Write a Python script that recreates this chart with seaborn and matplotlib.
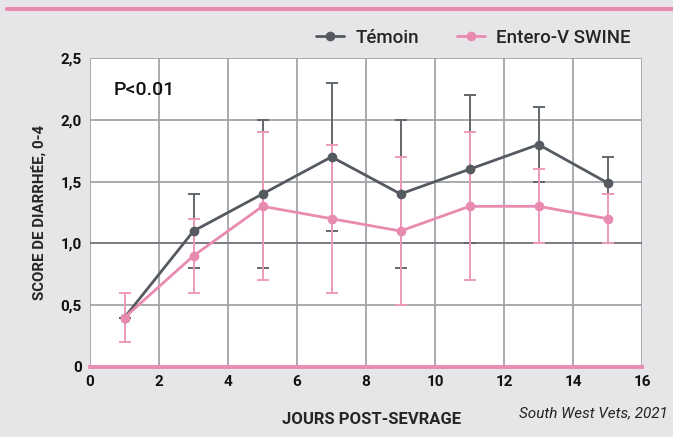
import matplotlib
matplotlib.use("Agg")
import matplotlib.pyplot as plt
import numpy as np
import pandas as pd
import seaborn as sns

sns.set_style("white")
plt.rcParams['font.family'] = ['Roboto', 'DejaVu Sans']

days = [1, 3, 5, 7, 9, 11, 13, 15]
temoin = [0.4, 1.1, 1.4, 1.7, 1.4, 1.6, 1.8, 1.49]
temoin_lo = [0.4, 0.8, 0.8, 1.1, 0.8, 1.0, 1.5, 1.4]
temoin_hi = [0.4, 1.4, 2.0, 2.3, 2.0, 2.2, 2.1, 1.7]
entero = [0.4, 0.9, 1.3, 1.2, 1.1, 1.3, 1.3, 1.2]
entero_lo = [0.2, 0.6, 0.7, 0.6, 0.5, 0.7, 1.0, 1.0]
entero_hi = [0.6, 1.2, 1.9, 1.8, 1.7, 1.9, 1.6, 1.4]
series = ['Témoin', 'Entero-V SWINE']
yticks = [0, 0.5, 1.0, 1.5, 2.0, 2.5]
ytick_labels = ['0', '0,5', '1,0', '1,5', '2,0', '2,5']

grey = '#555a60'
pink = '#e98bb0'
bg = '#e6e6e8'

df = pd.DataFrame({
    'jour': days * 2,
    'score': temoin + entero,
    'groupe': [series[0]] * len(days) + [series[1]] * len(days),
})

fig = plt.figure(figsize=(6.73, 4.37), dpi=100, facecolor=bg)
ax = fig.add_axes([90 / 673, 1 - 367 / 437, 552 / 673, 309 / 437])
ax.set_facecolor('white')

# error bars first, lines on top
for vals, lo, hi, c in [(temoin, temoin_lo, temoin_hi, '#62676d'),
                        (entero, entero_lo, entero_hi, '#ee9bbb')]:
    v = np.array(vals)
    err = np.vstack([v - np.array(lo), np.array(hi) - v])
    ax.errorbar(days, v, yerr=err, fmt='none', ecolor=c, elinewidth=1.4,
                capsize=4, capthick=1.4, zorder=3)

sns.lineplot(data=df, x='jour', y='score', hue='groupe', hue_order=series,
             palette=[grey, pink], marker='o', markersize=7, markeredgewidth=0,
             linewidth=2, ax=ax, zorder=4)

ax.set_xlim(0, 16)
ax.set_ylim(0, 2.5)
ax.set_xticks(range(0, 17, 2))
ax.set_yticks(yticks)
ax.set_yticklabels(ytick_labels)
ax.tick_params(axis='both', length=0, labelsize=11, pad=6, colors='#111111')
for lab in ax.get_xticklabels() + ax.get_yticklabels():
    lab.set_fontweight('bold')

ax.grid(True, color='#a3a3a8', linewidth=1.3)
ax.axhline(1.0, color='#7a7a80', linewidth=1.3, zorder=1)
for s in ['top', 'right', 'left']:
    ax.spines[s].set_visible(False)
ax.spines['bottom'].set_color(pink)
ax.spines['bottom'].set_linewidth(2.8)

ax.set_xlabel('JOURS POST-SEVRAGE', fontsize=12, fontweight='bold')
ax.set_ylabel('SCORE DE DIARRHÉE, 0-4', fontsize=10.8, fontweight='bold', labelpad=10)
ax.xaxis.set_label_coords(0.51, -0.145)

ax.text(0.042, 0.895, 'P<0.01', transform=ax.transAxes, fontsize=14,
        fontweight='medium', color='#111111', va='center')

leg = ax.legend(loc='lower right', bbox_to_anchor=(1.0, 1.0), ncol=2, frameon=False,
                fontsize=13.5, handlelength=1.5, columnspacing=2.0,
                handletextpad=0.6, borderaxespad=0.2)
for t in leg.get_texts():
    t.set_fontweight('medium')

fig.text(0.992, 0.055, 'South West Vets, 2021', ha='right', va='center',
         fontsize=11, style='italic', color='#222222')

fig.add_artist(plt.Line2D([7 / 673, 1], [1 - 9 / 437, 1 - 9 / 437],
                          color=pink, linewidth=3, transform=fig.transFigure))

fig.savefig('out.png', dpi=100, facecolor=bg)
